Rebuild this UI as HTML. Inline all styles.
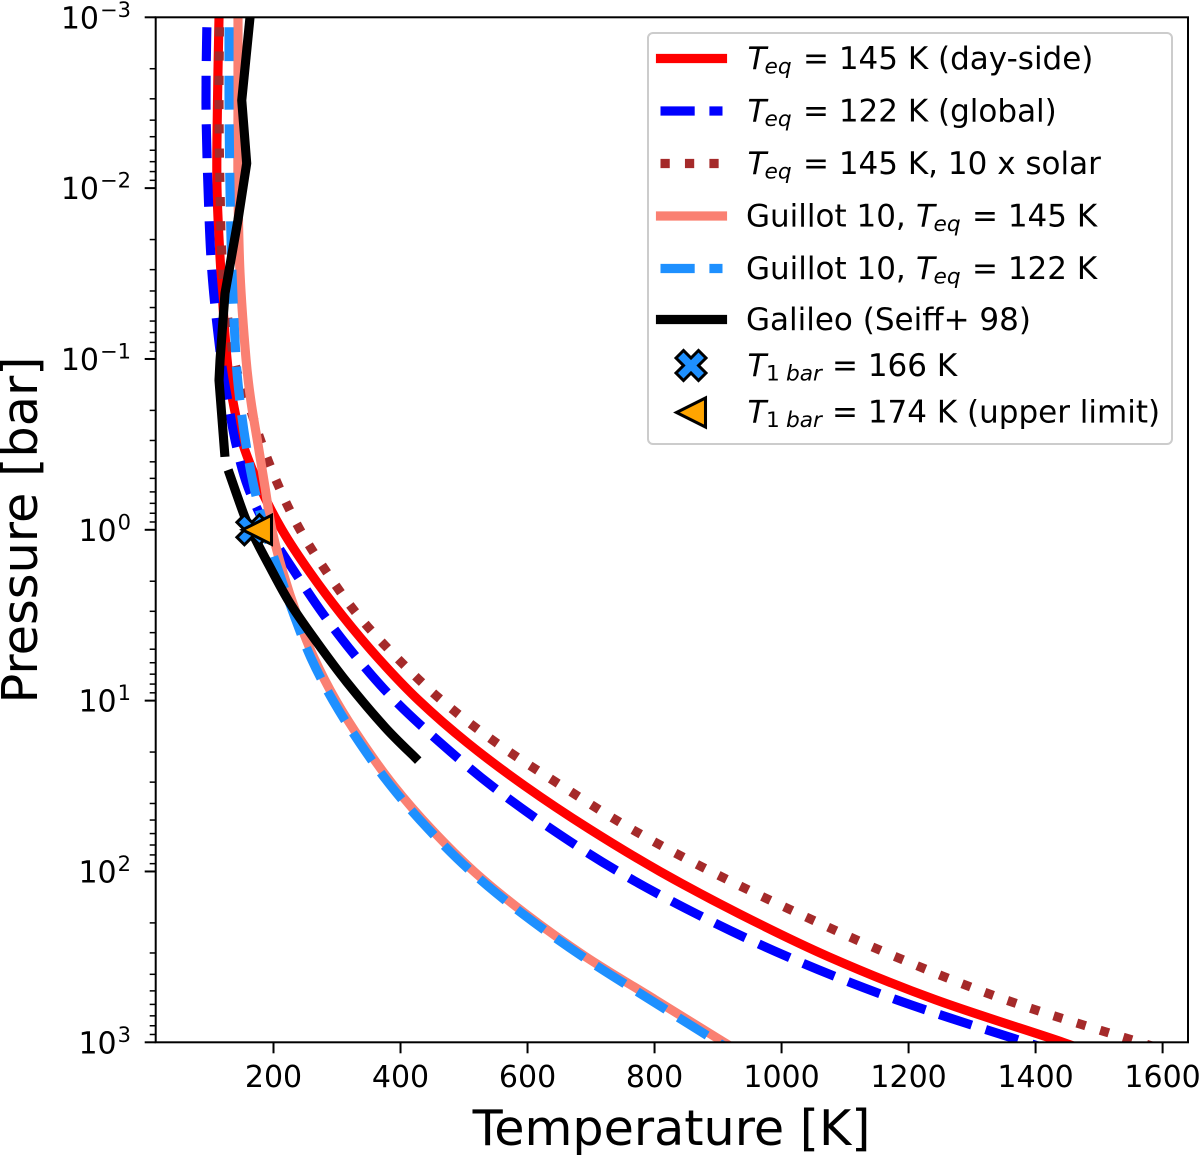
<!DOCTYPE html>
<html lang="en">
<head>
<meta charset="utf-8">
<title>Temperature-pressure profiles</title>
<style>
html,body{margin:0;padding:0;background:#fff;}
svg{display:block;font-family:"DejaVu Sans",sans-serif;fill:#000;}
.it{font-style:italic;}
</style>
</head>
<body>
<svg id="chart" xmlns="http://www.w3.org/2000/svg" width="1200" height="1155" viewBox="0 0 1200 1155">
  <defs><clipPath id="plot-clip"><rect x="155.7" y="17.3" width="1032.3" height="1025"/></clipPath></defs>
  <rect x="0" y="0" width="1200" height="1155" fill="#fff"/>
  <g id="series" clip-path="url(#plot-clip)"></g>
  <g id="markers"></g>
  <g id="axes"></g>
  <text x="671.5" y="1145" font-size="49.2" text-anchor="middle">Temperature [K]</text>
  <text transform="translate(37 530) rotate(-90)" font-size="49.4" text-anchor="middle">Pressure [bar]</text>

  <g>
    <rect x="648" y="33" width="524" height="411" rx="5" fill="#fff" fill-opacity="0.8" stroke="#ccc" stroke-width="2"/>
    <g>
      <line x1="660.5" x2="722.5" y1="58.5" y2="58.5" stroke="#ff0000" stroke-width="9.15" stroke-linecap="square"/>
      <text y="69" font-size="31"><tspan class="it" x="747.5">T</tspan><tspan class="it" x="764.5" y="73.5" font-size="21.7">eq</tspan><tspan x="803" y="69">= 145 K (day-side)</tspan></text>
    </g>
    <g>
      <line x1="660.5" x2="722.5" y1="111" y2="111" stroke="#0000ff" stroke-width="9.15" stroke-dasharray="34.2 14.7"/>
      <text y="121.5" font-size="31"><tspan class="it" x="747.5">T</tspan><tspan class="it" x="764.5" y="126" font-size="21.7">eq</tspan><tspan x="803" y="121.5">= 122 K (global)</tspan></text>
    </g>
    <g>
      <line x1="660.5" x2="722.5" y1="163.5" y2="163.5" stroke="#a52a2a" stroke-width="9.15" stroke-dasharray="9.25 15.2"/>
      <text y="174" font-size="31"><tspan class="it" x="747.5">T</tspan><tspan class="it" x="764.5" y="178.5" font-size="21.7">eq</tspan><tspan x="803" y="174">= 145 K, 10 x solar</tspan></text>
    </g>
    <g>
      <line x1="660.5" x2="722.5" y1="216" y2="216" stroke="#fa8072" stroke-width="9.15" stroke-linecap="square"/>
      <text y="226.5" font-size="31"><tspan x="746">Guillot 10,</tspan><tspan class="it" x="916">T</tspan><tspan class="it" x="933.5" y="231" font-size="21.7">eq</tspan><tspan x="972" y="226.5">= 145 K</tspan></text>
    </g>
    <g>
      <line x1="660.5" x2="722.5" y1="268.5" y2="268.5" stroke="#1e90ff" stroke-width="9.15" stroke-dasharray="34.2 14.7"/>
      <text y="279" font-size="31"><tspan x="746">Guillot 10,</tspan><tspan class="it" x="916">T</tspan><tspan class="it" x="933.5" y="283.5" font-size="21.7">eq</tspan><tspan x="972" y="279">= 122 K</tspan></text>
    </g>
    <g>
      <line x1="660.5" x2="722.5" y1="319.5" y2="319.5" stroke="#000" stroke-width="9.15" stroke-linecap="square"/>
      <text x="746" y="330" font-size="31">Galileo (Seiff+ 98)</text>
    </g>
    <g>
      <polygon transform="translate(691 365.5) scale(15)" points="-1,-.5 -.5,-1 0,-.5 .5,-1 1,-.5 .5,0 1,.5 .5,1 0,.5 -.5,1 -1,.5 -.5,0" fill="#1e90ff" stroke="#000" stroke-width="0.2" stroke-linejoin="miter"/>
      <text y="376" font-size="31"><tspan class="it" x="747.5">T</tspan><tspan x="766" y="380.5" font-size="21.7">1</tspan><tspan class="it" x="786" y="380.5" font-size="21.7">bar</tspan><tspan x="832" y="376">= 166 K</tspan></text>
    </g>
    <g>
      <polygon transform="translate(691 412.5) scale(14.5)" points="-1,0 1,-1 1,1" fill="#ffa500" stroke="#000" stroke-width="0.21" stroke-linejoin="miter"/>
      <text y="422.5" font-size="31"><tspan class="it" x="747.5">T</tspan><tspan x="766" y="427" font-size="21.7">1</tspan><tspan class="it" x="786" y="427" font-size="21.7">bar</tspan><tspan x="832" y="422.5">= 174 K (upper limit)</tspan></text>
    </g>
  </g>
</svg>

<script>
// Chart data: pressure grid (log10 bar) and temperatures (K).
const logPressure = [-3,-2.5,-2,-1.5,-1,-0.75,-0.5,-0.25,0,0.25,0.5,0.75,1,1.25,1.5,1.75,2,2.25,2.5,2.75,3,3.1];
const tempDaySide = [114.2,111.8,111,117.3,126.8,136.2,152,178.7,213.4,257.5,307.9,364.5,429.1,506.3,596,696.8,808.6,934.5,1074.7,1241.6,1443,1514];
const tempGlobal = [95.3,93.7,96.9,103.2,117.3,128.4,141,159.8,191.3,233.9,279.5,331.5,391.3,463.7,544,637,742.5,866.8,1010,1180,1385,1481];
const tempSolar10 = [115,114.2,115.8,120.5,137.8,159.8,182,208.7,241.7,284.2,333,394.5,465.3,552,654.3,762.9,888.9,1029,1180,1351.8,1564,1658.9];
const tempGuillot145 = [144.1,144.1,144.1,147.3,156.7,164.6,175.6,186.6,197.6,215,237,263.8,298.4,340.9,389.7,448,515.7,597.6,692,800.7,909.3,955];
const tempGuillot122 = [130,130,131.5,134.7,141,147.3,156.7,169.3,186.6,208.7,232.3,259,293.7,336.2,385,443.3,511,592.9,687.3,792.8,900,945];
const galileoLogPUpper = [-3,-2.514,-2.145,-1.812,-1.384,-0.992,-0.875,-0.454];
const galileoTempUpper = [163,150,157.8,144,123.6,115.8,114.2,123];
const galileoLogPLower = [-0.325,-0.073,0.062,0.196,0.43,0.659,0.893,1.156,1.332];
const galileoTempLower = [131,155.1,172.4,191.3,226,268.5,315.7,375.6,422.8];
const markerTemps = [166,174];
const markerLogP = [0,0];
const xTicks = [200,400,600,800,1000,1200,1400,1600];
const yDecades = [-3,-2,-1,0,1,2,3];
const minorFactors = [2,3,4,5,6,7,8,9];

const SVGNS = 'http://www.w3.org/2000/svg';
const X0 = 155.7, X1 = 1188, Y0 = 17.3, Y1 = 1042.3;
const Tmin = 14.5, Tmax = 1640, Lmin = -3, Lmax = 3;
function xScale(t){ return X0 + (t - Tmin) / (Tmax - Tmin) * (X1 - X0); }
function yScale(l){ return Y0 + (l - Lmin) / (Lmax - Lmin) * (Y1 - Y0); }

function smoothPath(ps, ts){
  const p = ts.map((t,i)=>[xScale(t), yScale(ps[i])]);
  let d = 'M' + p[0][0].toFixed(2) + ' ' + p[0][1].toFixed(2);
  for(let i=0;i<p.length-1;i++){
    const a=p[Math.max(i-1,0)], b=p[i], c=p[i+1], e=p[Math.min(i+2,p.length-1)];
    const c1=[b[0]+(c[0]-a[0])/6, b[1]+(c[1]-a[1])/6];
    const c2=[c[0]-(e[0]-b[0])/6, c[1]-(e[1]-b[1])/6];
    d += 'C'+c1[0].toFixed(2)+' '+c1[1].toFixed(2)+' '+c2[0].toFixed(2)+' '+c2[1].toFixed(2)+' '+c[0].toFixed(2)+' '+c[1].toFixed(2);
  }
  return d;
}
function straightPath(ps, ts){
  return ts.map((t,i)=>(i?'L':'M')+xScale(t).toFixed(2)+' '+yScale(ps[i]).toFixed(2)).join('');
}
function addCurve(name, d, color, dash, cap){
  const el = document.createElementNS(SVGNS,'path');
  
  
  el.setAttribute('d', d);
  el.setAttribute('fill','none');
  el.setAttribute('stroke',color);
  el.setAttribute('stroke-width','9.15');
  el.setAttribute('stroke-linejoin','round');
  el.setAttribute('stroke-linecap',cap);
  if(dash){
    el.setAttribute('stroke-dasharray',dash);
    el.setAttribute('stroke-dashoffset','-10');
  }
  document.getElementById('series').appendChild(el);
}
addCurve('curve-teq-145-day-side', smoothPath(logPressure,tempDaySide), '#ff0000', null, 'square');
addCurve('curve-teq-122-global', smoothPath(logPressure,tempGlobal), '#0000ff', '33.9 14.6', 'butt');
addCurve('curve-teq-145-10x-solar', smoothPath(logPressure,tempSolar10), '#a52a2a', '9.15 15.1', 'butt');
addCurve('curve-guillot-145', smoothPath(logPressure,tempGuillot145), '#fa8072', null, 'square');
addCurve('curve-guillot-122', smoothPath(logPressure,tempGuillot122), '#1e90ff', '33.9 14.6', 'butt');
addCurve('curve-galileo-upper', straightPath(galileoLogPUpper,galileoTempUpper), '#000000', null, 'square');
addCurve('curve-galileo-lower', smoothPath(galileoLogPLower,galileoTempLower), '#000000', null, 'square');

// Markers
const mg = document.getElementById('markers');
const xm = document.createElementNS(SVGNS,'polygon');


xm.setAttribute('transform','translate('+xScale(markerTemps[0])+' '+yScale(markerLogP[0])+') scale(15)');
xm.setAttribute('points','-1,-.5 -.5,-1 0,-.5 .5,-1 1,-.5 .5,0 1,.5 .5,1 0,.5 -.5,1 -1,.5 -.5,0');
xm.setAttribute('fill','#1e90ff');
xm.setAttribute('stroke','#000');
xm.setAttribute('stroke-width','0.2');
mg.appendChild(xm);
const tm = document.createElementNS(SVGNS,'polygon');


tm.setAttribute('transform','translate('+xScale(markerTemps[1])+' '+yScale(markerLogP[1])+') scale(14.5)');
tm.setAttribute('points','-1,0 1,-1 1,1');
tm.setAttribute('fill','#ffa500');
tm.setAttribute('stroke','#000');
tm.setAttribute('stroke-width','0.21');
mg.appendChild(tm);

// Axes
const ag = document.getElementById('axes');
function tickLine(name,x1,y1,x2,y2,w){
  const l = document.createElementNS(SVGNS,'line');
  
  
  l.setAttribute('x1',x1); l.setAttribute('y1',y1);
  l.setAttribute('x2',x2); l.setAttribute('y2',y2);
  l.setAttribute('stroke','#000');
  l.setAttribute('stroke-width',w);
  ag.appendChild(l);
}
const frame = document.createElementNS(SVGNS,'rect');


frame.setAttribute('x',X0); frame.setAttribute('y',Y0);
frame.setAttribute('width',X1-X0); frame.setAttribute('height',Y1-Y0);
frame.setAttribute('fill','none');
frame.setAttribute('stroke','#000');
frame.setAttribute('stroke-width','2');
ag.appendChild(frame);

xTicks.forEach(function(t){
  const x = xScale(t);
  tickLine('x-tick',x,Y1,x,Y1+11,2);
  const tx = document.createElementNS(SVGNS,'text');
  
  
  tx.setAttribute('x',x); tx.setAttribute('y',1087);
  tx.setAttribute('font-size','30');
  tx.setAttribute('text-anchor','middle');
  tx.textContent = String(t);
  ag.appendChild(tx);
});
yDecades.forEach(function(dec,i){
  const y = yScale(dec);
  tickLine('y-tick',X0-11,y,X0,y,2);
  const tx = document.createElementNS(SVGNS,'text');
  
  
  tx.setAttribute('x',131); tx.setAttribute('y',y+11);
  tx.setAttribute('font-size','30');
  tx.setAttribute('text-anchor','end');
  const base = document.createElementNS(SVGNS,'tspan');
  base.textContent = '10';
  tx.appendChild(base);
  const sup = document.createElementNS(SVGNS,'tspan');
  sup.setAttribute('font-size','21');
  sup.setAttribute('dx','1');
  sup.setAttribute('dy','-11.5');
  sup.textContent = (dec<0?'\u2212':'') + Math.abs(dec);
  tx.appendChild(sup);
  ag.appendChild(tx);
  if(i < yDecades.length-1){
    minorFactors.forEach(function(f){
      const ym = yScale(dec + Math.log10(f));
      tickLine('y-minor-tick',X0-6,ym,X0,ym,1.5);
    });
  }
});
</script>
</body>
</html>
